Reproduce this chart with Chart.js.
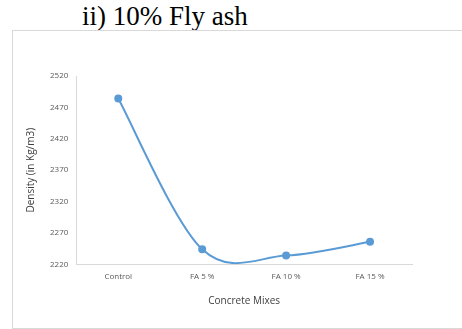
<!DOCTYPE html>
<html>
<head>
<meta charset="utf-8">
<script src="https://cdn.jsdelivr.net/npm/chart.js@4"></script>
<style>
  body { margin: 0; background: #fff; width: 462px; height: 329px; overflow: hidden; position: relative; }
  #title { position: absolute; left: 82px; top: 3px; line-height: 1; font-family: "Liberation Serif", "DejaVu Serif", serif; font-size: 27px; color: #000; white-space: nowrap; }
  #frame { position: absolute; left: 12px; top: 30px; width: 460px; height: 297px; border: 1px solid #d9d9d9; }
  #wrap { position: absolute; left: 0; top: 0; width: 449px; height: 297px; }
</style>
</head>
<body>
<div id="title">ii) 10% Fly ash</div>
<div id="frame"><div id="wrap"><canvas id="chart"></canvas></div></div>
<script>
// Data
const mixes = ["Control", "FA 5 %", "FA 10 %", "FA 15 %"];
const density = [2484, 2244, 2234, 2256];
const yMin = 2220, yMax = 2520, yStep = 50;

const tickFont = { family: "'Open Sans', 'Liberation Sans', sans-serif", size: 8 };
const titleFont = { family: "'Open Sans', 'Liberation Sans', sans-serif", size: 10 };

// Excel-style smoothing: control points at +/- (next - prev) / 6
const excelSmooth = {
  id: "excelSmooth",
  beforeDatasetDraw(chart, args) {
    const meta = args.meta;
    meta.dataset.updateControlPoints(chart.chartArea, "x");
    const pts = meta.data;
    pts.forEach((p, i) => {
      const prev = pts[i - 1] || p;
      const next = pts[i + 1] || p;
      const dx = (next.x - prev.x) / 6;
      const dy = (next.y - prev.y) / 6;
      p.cp1x = p.x - dx; p.cp1y = p.y - dy;
      p.cp2x = p.x + dx; p.cp2y = p.y + dy;
    });
  }
};

new Chart(document.getElementById("chart"), {
  type: "line",
  data: {
    labels: mixes,
    datasets: [{
      data: density,
      borderColor: "#5b9bd5",
      backgroundColor: "#5b9bd5",
      borderWidth: 2,
      pointRadius: 3,
      tension: 0.4
    }]
  },
  options: {
    responsive: true,
    maintainAspectRatio: false,
    animation: false,
    layout: { padding: { left: 12, top: 45, right: 50, bottom: 17 } },
    plugins: { legend: { display: false }, tooltip: { enabled: false } },
    scales: {
      x: {
        offset: true,
        grid: { display: false, drawTicks: false },
        border: { color: "#d9d9d9", width: 1 },
        ticks: { color: "#595959", font: tickFont, padding: 8, maxRotation: 0 },
        title: { display: true, text: "Concrete Mixes", color: "#404040", font: titleFont, padding: { top: 5 } }
      },
      y: {
        min: yMin,
        max: yMax,
        grid: { display: false, drawTicks: false },
        border: { color: "#d9d9d9", width: 1 },
        ticks: { stepSize: yStep, color: "#595959", font: tickFont, padding: 8, callback: v => String(v) },
        title: { display: true, text: "Density (in Kg/m3)", color: "#404040", font: titleFont, padding: { top: 0, bottom: 5 } }
      }
    }
  },
  plugins: [excelSmooth]
});
</script>
</body>
</html>
